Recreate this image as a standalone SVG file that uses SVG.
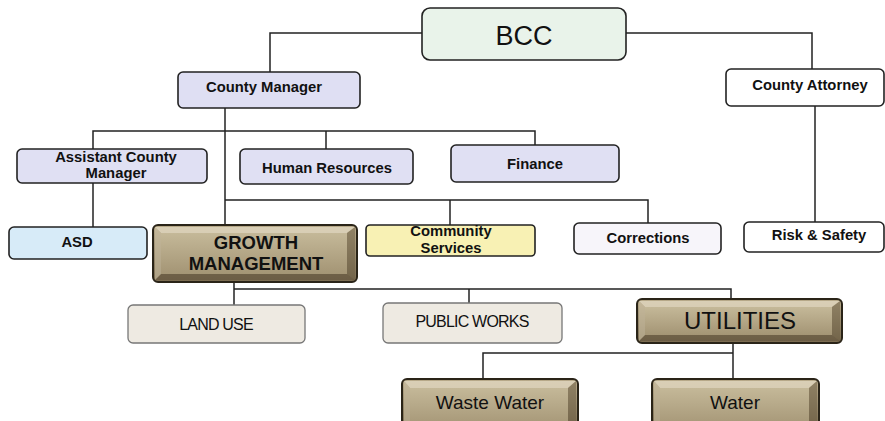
<svg xmlns="http://www.w3.org/2000/svg" width="885" height="421" viewBox="0 0 885 421">
<style>
.box{stroke:#222;stroke-width:1.6}
.lbl{font-family:"Liberation Sans",Arial,sans-serif;font-weight:bold;font-size:14.8px;fill:#111;text-anchor:middle}
.big{font-family:"Liberation Sans",Arial,sans-serif;fill:#111;text-anchor:middle}
.con{fill:none;stroke:#222;stroke-width:1.5}
.gold{fill:url(#goldg);stroke:#2a2418;stroke-width:2}
.facetT{fill:#e6dcc6;opacity:0.75}
.facetB{fill:#5e513a;opacity:0.55}
.facetL{fill:#cfc3a6;opacity:0.6}
.facetR{fill:#6a5c42;opacity:0.5}
.inner{fill:url(#goldi)}
</style>
<defs>
<linearGradient id="goldg" x1="0" y1="0" x2="0" y2="1">
<stop offset="0" stop-color="#b8aa8a"/><stop offset="1" stop-color="#7a6b50"/>
</linearGradient>
<linearGradient id="goldi" x1="0" y1="0" x2="0" y2="1">
<stop offset="0" stop-color="#c4b898"/><stop offset="1" stop-color="#a49575"/>
</linearGradient>
</defs>
<g id="connectors">
<path class="con" d="M422 33 H270 V72"/>
<path class="con" d="M626 33 H812 V69"/>
<path class="con" d="M815 106 V222"/>
<path class="con" d="M225 108 V226"/>
<path class="con" d="M93 149 V131 H535 V145"/>
<path class="con" d="M326 131 V149"/>
<path class="con" d="M93 183 V227"/>
<path class="con" d="M225 200 H648 V223"/>
<path class="con" d="M450 200 V225"/>
<path class="con" d="M234 282 V305"/>
<path class="con" d="M234 289 H731 V300"/>
<path class="con" d="M469 289 V303"/>
<path class="con" d="M733 342 V379"/>
<path class="con" d="M483 379 V353 H733"/>
</g>
<g id="bcc"><rect class="box" x="422" y="8" width="204" height="52" rx="8" fill="#e9f3ea"/><text class="big" x="524" y="45" font-size="27">BCC</text></g>
<g id="county-manager"><rect class="box" x="178" y="72" width="182" height="36" rx="5" fill="#dfdff3"/><text class="lbl" x="264" y="92" font-size="14">County Manager</text></g>
<g id="county-attorney"><rect class="box" x="726" y="69" width="158" height="37" rx="5" fill="#ffffff"/><text class="lbl" x="810" y="90">County Attorney</text></g>
<g id="assistant-county-manager"><rect class="box" x="17" y="149" width="190" height="34" rx="5" fill="#e0e0f3"/><text class="lbl" x="116" y="162" font-size="15.5">Assistant County</text><text class="lbl" x="116" y="178" font-size="15.5">Manager</text></g>
<g id="human-resources"><rect class="box" x="240" y="149" width="173" height="35" rx="5" fill="#e0e0f3"/><text class="lbl" x="327" y="173">Human Resources</text></g>
<g id="finance"><rect class="box" x="451" y="145" width="168" height="37" rx="5" fill="#e0e0f3"/><text class="lbl" x="535" y="169">Finance</text></g>
<g id="asd"><rect class="box" x="9" y="227" width="138" height="32" rx="5" fill="#d7ebf8"/><text class="lbl" x="77" y="247">ASD</text></g>
<g id="growth-management">
<rect class="gold" x="153" y="225" width="204" height="57" rx="5"/>
<polygon class="facetT" points="155,227 355,227 347,233 161,233"/>
<polygon class="facetB" points="155,280 355,280 347,274 161,274"/>
<polygon class="facetL" points="155,227 161,233 161,274 155,280"/>
<polygon class="facetR" points="355,227 347,233 347,274 355,280"/>
<rect class="inner" x="161" y="233" width="186" height="41"/>
<text class="big" x="256" y="249" font-size="18.5" font-weight="bold">GROWTH</text>
<text class="big" x="256" y="270" font-size="18.5" font-weight="bold">MANAGEMENT</text>
</g>
<g id="community-services"><rect class="box" x="366" y="225" width="169" height="31" rx="4" fill="#f8f1b4"/><text class="lbl" x="451" y="236">Community</text><text class="lbl" x="451" y="253">Services</text></g>
<g id="corrections"><rect class="box" x="574" y="223" width="147" height="31" rx="5" fill="#f7f5fa"/><text class="lbl" x="648" y="243">Corrections</text></g>
<g id="risk-safety"><rect class="box" x="744" y="222" width="140" height="30" rx="5" fill="#ffffff"/><text class="lbl" x="819" y="240">Risk &amp; Safety</text></g>
<g id="land-use"><rect x="128" y="305" width="177" height="38" rx="5" fill="#eeeae2" stroke="#777" stroke-width="1.3"/><text class="big" x="216" y="330" font-size="16" letter-spacing="-0.8">LAND USE</text></g>
<g id="public-works"><rect x="383" y="303" width="179" height="40" rx="5" fill="#eeeae2" stroke="#777" stroke-width="1.3"/><text class="big" x="472" y="327" font-size="16" letter-spacing="-0.8">PUBLIC WORKS</text></g>
<g id="utilities">
<rect class="gold" x="637" y="299" width="205" height="44" rx="5"/>
<polygon class="facetT" points="639,301 840,301 832,307 645,307"/>
<polygon class="facetB" points="639,341 840,341 832,335 645,335"/>
<polygon class="facetL" points="639,301 645,307 645,335 639,341"/>
<polygon class="facetR" points="840,301 832,307 832,335 840,341"/>
<rect class="inner" x="645" y="307" width="187" height="28"/>
<text class="big" x="740" y="329" font-size="24">UTILITIES</text>
</g>
<g id="waste-water">
<rect class="gold" x="402" y="379" width="176" height="50" rx="5"/>
<polygon class="facetT" points="404,381 576,381 568,388 410,388"/>
<polygon class="facetL" points="404,381 410,388 410,421 404,421"/>
<polygon class="facetR" points="576,381 568,388 568,421 576,421"/>
<rect class="inner" x="410" y="388" width="158" height="40"/>
<text class="big" x="490" y="409" font-size="19">Waste Water</text>
</g>
<g id="water">
<rect class="gold" x="652" y="379" width="167" height="50" rx="5"/>
<polygon class="facetT" points="654,381 817,381 809,388 660,388"/>
<polygon class="facetL" points="654,381 660,388 660,421 654,421"/>
<polygon class="facetR" points="817,381 809,388 809,421 817,421"/>
<rect class="inner" x="660" y="388" width="149" height="40"/>
<text class="big" x="735" y="409" font-size="19">Water</text>
</g>
</svg>
